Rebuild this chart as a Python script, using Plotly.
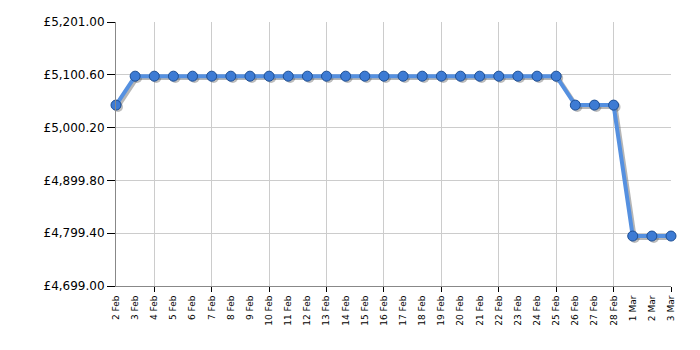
import plotly.graph_objects as go
import pandas as pd

dates = pd.date_range("2023-02-02", "2023-03-03", freq="D")
labels = [f"{d.day} {d.strftime('%b')}" for d in dates]
prices = [5043] + [5098] * 23 + [5043] * 3 + [4794] * 3
y_ticks = [4699.00, 4799.40, 4899.80, 5000.20, 5100.60, 5201.00]
y_text = [f"£{v:,.2f}" for v in y_ticks]
grid_dates = dates[2::3]

# shadow offset derived from axis scale (approx 2px right, 2px down)
day_ms = pd.Timedelta(hours=2.5)
shadow_x = [d + day_ms for d in dates]
shadow_y = [p - 3.5 for p in prices]

fig = go.Figure()
fig.add_trace(go.Scatter(
    x=shadow_x, y=shadow_y, mode="lines+markers",
    line=dict(color="rgba(110,110,110,0.5)", width=4),
    marker=dict(size=10, color="rgba(90,90,90,0.4)"),
    hoverinfo="skip", showlegend=False, cliponaxis=False))
fig.add_trace(go.Scatter(
    x=dates, y=prices, mode="lines+markers",
    line=dict(color="#5590e0", width=4),
    marker=dict(size=10, color="#3d7bd4", line=dict(color="#1e4f94", width=1)),
    showlegend=False, cliponaxis=False))

fig.update_layout(
    width=700, height=350,
    margin=dict(l=116, r=29, t=22, b=64),
    paper_bgcolor="white", plot_bgcolor="white",
    font=dict(family="DejaVu Sans", color="black"),
    xaxis=dict(
        type="date",
        range=[dates[0], dates[-1]],
        tickmode="array", tickvals=dates, ticktext=labels,
        tickangle=-90, tickfont=dict(size=9),
        ticklabelstandoff=5,
        showgrid=False, ticks="",
        showline=True, linecolor="#888", linewidth=1,
        minor=dict(tickmode="array", tickvals=grid_dates, showgrid=True,
                   gridcolor="#cccccc", gridwidth=1,
                   ticks="outside", ticklen=5, tickcolor="black"),
        zeroline=False, fixedrange=True,
    ),
    yaxis=dict(
        range=[y_ticks[0], y_ticks[-1]],
        tickmode="array", tickvals=y_ticks, ticktext=y_text,
        tickfont=dict(size=12),
        showgrid=True, gridcolor="#cccccc", gridwidth=1,
        ticks="outside", ticklen=8, tickcolor="black",
        showline=True, linecolor="#888", linewidth=1,
        zeroline=False, fixedrange=True,
    ),
)

fig.write_html("out.html")
